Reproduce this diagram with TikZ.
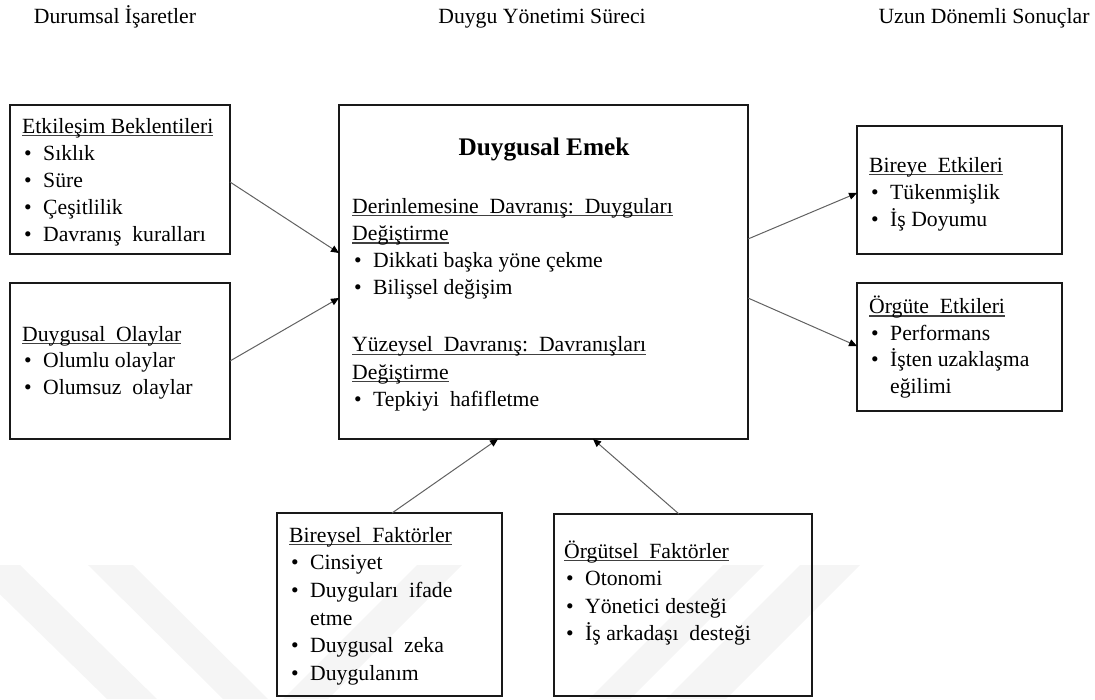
\documentclass[tikz,border=0pt]{standalone}
\usepackage{fontspec}
\setmainfont{Liberation Serif}
\usetikzlibrary{arrows.meta}

% underlined heading inside a box
\newlength\ulw
\newcommand\hdline[1]{\settowidth\ulw{#1}\rlap{\color{black!75}\rule[-3.2pt]{\ulw}{1.1pt}}#1}
\newcommand\hd[1]{\hbox{\hdline{#1}}}
% bullet item and its continuation line
\newcommand\bul[1]{\hbox{\hspace{2pt}\makebox[19pt][l]{\textbullet}#1}}
\newcommand\cont[1]{\hbox{\hspace{21pt}#1}}

\begin{document}
\begin{tikzpicture}[x=1pt,y=-1pt,
  box/.style={draw=black!90, line width=1.4pt, inner sep=0pt, outer sep=0pt,
    anchor=north west, rectangle},
  txt/.style={anchor=base west, inner sep=0pt, text=black,
    font=\fontsize{21.7pt}{27.2pt}\selectfont},
  hdr/.style={anchor=base, inner sep=0pt, text=black,
    font=\fontsize{21.7pt}{27.2pt}\selectfont},
  conn/.style={draw=black!62, line width=1pt,
    -{Triangle[length=8pt,width=7pt,color=black]}},
  wmband/.style={fill=black!4, draw=none}]

\useasboundingbox (0,0) rectangle (1095,699);

% faint diagonal bands along the bottom edge
\begin{scope}
  \clip (0,0) rectangle (1095,699);
  \fill[wmband] (-30,565) -- (20,565) -- (157,699) -- (107,699) -- cycle;
  \fill[wmband] (88,565) -- (133,565) -- (268,699) -- (223,699) -- cycle;
  \fill[wmband] (417,565) -- (462,565) -- (328,699) -- (283,699) -- cycle;
  \fill[wmband] (723,565) -- (764,565) -- (630,699) -- (589,699) -- cycle;
  \fill[wmband] (800,565) -- (860,565) -- (726,699) -- (666,699) -- cycle;
\end{scope}

% column headings
\node[hdr] (h1) at (115,23) {Durumsal İşaretler};
\node[hdr] (h2) at (542,23) {Duygu Yönetimi Süreci};
\node[hdr] (h3) at (984,23) {Uzun Dönemli Sonuçlar};

% boxes
\node[box, minimum width=220pt, minimum height=149pt] (b1) at (10,105) {};
\node[box, minimum width=220pt, minimum height=156pt] (b2) at (10,283) {};
\node[box, minimum width=409pt, minimum height=334pt] (c) at (339,105) {};
\node[box, minimum width=205pt, minimum height=128pt] (r1) at (857,126) {};
\node[box, minimum width=205pt, minimum height=128pt] (r2) at (857,283) {};
\node[box, minimum width=225pt, minimum height=183pt] (d1) at (277,513) {};
\node[box, minimum width=258pt, minimum height=182pt] (d2) at (554,514) {};

% box contents
\node[txt] (t1) at (22,133) {\vtop{\baselineskip=27.2pt
  \hd{Etkileşim Beklentileri}
  \bul{Sıklık}
  \bul{Süre}
  \bul{Çeşitlilik}
  \bul{Davranış\ \ kuralları}}};

\node[txt] (t2) at (22,341) {\vtop{\baselineskip=26.9pt
  \hd{Duygusal\ \ Olaylar}
  \bul{Olumlu\ olaylar}
  \bul{Olumsuz\ \ olaylar}}};

\node[hdr, font=\fontsize{25.3pt}{30pt}\selectfont\bfseries] (ct) at (544,155.7) {Duygusal Emek};

\node[txt] (c1) at (352,213) {\vtop{\baselineskip=27.3pt
  \hd{Derinlemesine\ \ Davranış:\ \ Duyguları}
  \hd{Değiştirme}
  \bul{Dikkati\ başka\ yöne\ çekme}
  \bul{Bilişsel değişim}}};

\node[txt] (c2) at (352,351.7) {\vtop{\baselineskip=27.3pt
  \hd{Yüzeysel\ \ Davranış:\ \ Davranışları}
  \hd{Değiştirme}
  \bul{Tepkiyi\ \ hafifletme}}};

\node[txt] (s1) at (869,172) {\vtop{\baselineskip=27.3pt
  \hd{Bireye\ \ Etkileri}
  \bul{Tükenmişlik}
  \bul{İş Doyumu}}};

\node[txt] (s2) at (869,313.3) {\vtop{\baselineskip=26.7pt
  \hd{Örgüte\ \ Etkileri}
  \bul{Performans}
  \bul{İşten uzaklaşma}
  \cont{eğilimi}}};

\node[txt] (f1) at (289,542) {\vtop{\baselineskip=27.7pt
  \hd{Bireysel\ \ Faktörler}
  \bul{Cinsiyet}
  \bul{Duyguları\ \ ifade}
  \cont{etme}
  \bul{Duygusal\ \ zeka}
  \bul{Duygulanım}}};

\node[txt] (f2) at (564,558) {\vtop{\baselineskip=27.6pt
  \hd{Örgütsel\ \ Faktörler}
  \bul{Otonomi}
  \bul{Yönetici\ desteği}
  \bul{İş arkadaşı\ \ desteği}}};

% connectors
\draw[conn] ([yshift=-2.5pt]b1.east) -- ([yshift=19pt]c.west);
\draw[conn] (b2.east) -- ([yshift=-26pt]c.west);
\draw[conn] ([yshift=33pt]c.east) -- ([yshift=-3pt]r1.west);
\draw[conn] ([yshift=-26pt]c.east) -- ([yshift=1pt]r2.west);
\draw[conn] ([xshift=2.5pt]d1.north) -- ([xshift=-45.5pt]c.south);
\draw[conn] ([xshift=-4pt]d2.north) -- ([xshift=49.5pt]c.south);

\end{tikzpicture}
\end{document}
